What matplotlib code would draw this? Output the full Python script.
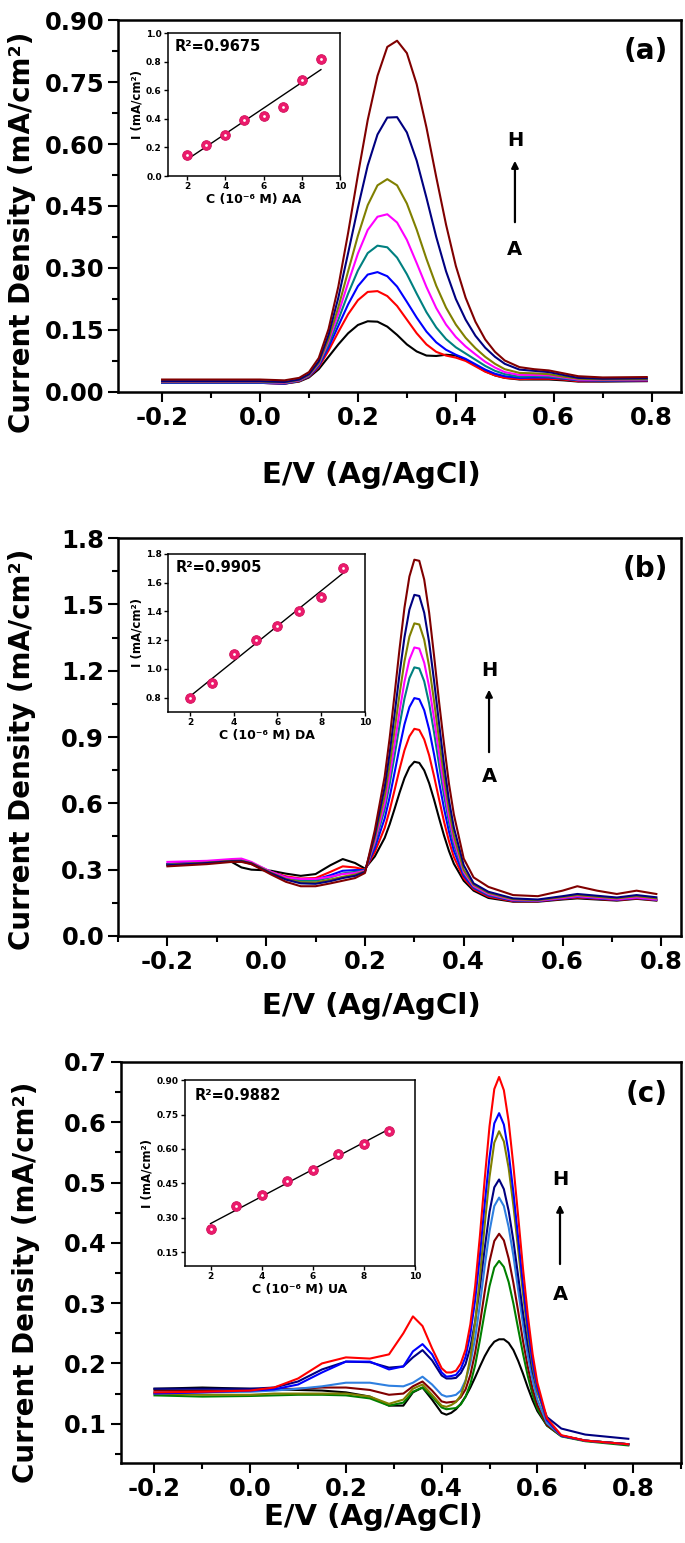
import matplotlib
matplotlib.use('Agg')
import matplotlib.pyplot as plt
import numpy as np
from matplotlib.ticker import MultipleLocator, FormatStrFormatter

plt.rcParams['font.family'] = 'DejaVu Sans'
plt.rcParams['font.weight'] = 'bold'
plt.rcParams['axes.labelweight'] = 'bold'

# ---------------- panel (a) : AA ----------------
Va = [-0.20, -0.10, 0.00, 0.05, 0.08, 0.10, 0.12, 0.14, 0.16, 0.18, 0.20, 0.22, 0.24, 0.26,
      0.28, 0.30, 0.32, 0.34, 0.36, 0.38, 0.40, 0.42, 0.44, 0.46, 0.48, 0.50, 0.53, 0.56,
      0.59, 0.62, 0.65, 0.70, 0.79]
a_black = [0.022, 0.022, 0.022, 0.020, 0.025, 0.035, 0.055, 0.085, 0.115, 0.142, 0.162, 0.171, 0.170, 0.158,
           0.138, 0.115, 0.098, 0.088, 0.087, 0.090, 0.088, 0.078, 0.064, 0.050, 0.040, 0.034, 0.030, 0.030,
           0.030, 0.028, 0.025, 0.025, 0.026]
a_red = [0.022, 0.022, 0.022, 0.020, 0.026, 0.037, 0.060, 0.100, 0.145, 0.188, 0.222, 0.242, 0.244, 0.232,
         0.208, 0.175, 0.142, 0.115, 0.097, 0.088, 0.083, 0.075, 0.062, 0.049, 0.040, 0.034, 0.031, 0.032,
         0.032, 0.030, 0.026, 0.026, 0.027]
a_blue = [0.022, 0.022, 0.022, 0.020, 0.027, 0.038, 0.063, 0.108, 0.160, 0.212, 0.256, 0.284, 0.290, 0.280,
          0.255, 0.218, 0.180, 0.146, 0.120, 0.102, 0.090, 0.080, 0.067, 0.054, 0.044, 0.038, 0.034, 0.035,
          0.035, 0.032, 0.028, 0.027, 0.028]
a_teal = [0.023, 0.023, 0.023, 0.021, 0.027, 0.039, 0.066, 0.115, 0.175, 0.238, 0.294, 0.336, 0.354, 0.350,
          0.325, 0.285, 0.238, 0.193, 0.156, 0.128, 0.108, 0.093, 0.078, 0.063, 0.051, 0.043, 0.037, 0.038,
          0.037, 0.033, 0.029, 0.028, 0.029]
a_magenta = [0.024, 0.024, 0.024, 0.022, 0.028, 0.040, 0.068, 0.122, 0.190, 0.264, 0.335, 0.392, 0.424, 0.430,
             0.410, 0.368, 0.312, 0.254, 0.203, 0.163, 0.133, 0.110, 0.091, 0.073, 0.059, 0.048, 0.041, 0.041,
             0.040, 0.035, 0.030, 0.029, 0.030]
a_olive = [0.025, 0.025, 0.025, 0.023, 0.029, 0.041, 0.070, 0.128, 0.205, 0.292, 0.378, 0.452, 0.500, 0.515,
           0.500, 0.456, 0.393, 0.322, 0.257, 0.204, 0.163, 0.131, 0.106, 0.085, 0.068, 0.055, 0.046, 0.045,
           0.043, 0.037, 0.032, 0.030, 0.031]
a_navy = [0.026, 0.026, 0.026, 0.024, 0.030, 0.043, 0.074, 0.138, 0.228, 0.336, 0.446, 0.548, 0.623, 0.664,
          0.665, 0.628, 0.560, 0.470, 0.375, 0.292, 0.225, 0.175, 0.136, 0.107, 0.085, 0.068, 0.054, 0.051,
          0.048, 0.041, 0.034, 0.032, 0.033]
a_maroon = [0.030, 0.030, 0.030, 0.028, 0.034, 0.048, 0.082, 0.152, 0.255, 0.385, 0.525, 0.658, 0.765, 0.835,
            0.850, 0.820, 0.745, 0.640, 0.520, 0.405, 0.305, 0.228, 0.170, 0.127, 0.097, 0.076, 0.060, 0.055,
            0.052, 0.045, 0.038, 0.035, 0.036]

# ---------------- panel (b) : DA ----------------
Vb = [-0.20, -0.12, -0.07, -0.05, -0.03, -0.01, 0.01, 0.04, 0.07, 0.10, 0.13, 0.155, 0.18, 0.20,
      0.22, 0.24, 0.25, 0.26, 0.27, 0.28, 0.29, 0.30, 0.31, 0.32, 0.33, 0.34, 0.35, 0.36, 0.37, 0.38, 0.40,
      0.42, 0.45, 0.50, 0.55, 0.60, 0.63, 0.67, 0.71, 0.75, 0.79]
b_black = [0.325, 0.335, 0.335, 0.310, 0.300, 0.298, 0.295, 0.282, 0.272, 0.280, 0.320, 0.348, 0.330, 0.305,
           0.360, 0.444, 0.505, 0.575, 0.648, 0.714, 0.763, 0.788, 0.783, 0.749, 0.691, 0.616, 0.534, 0.455, 0.385, 0.327, 0.250,
           0.205, 0.172, 0.155, 0.155, 0.165, 0.170, 0.165, 0.160, 0.168, 0.160]
b_red = [0.325, 0.335, 0.340, 0.338, 0.325, 0.305, 0.290, 0.270, 0.260, 0.262, 0.290, 0.315, 0.310, 0.300,
         0.380, 0.489, 0.568, 0.660, 0.754, 0.840, 0.903, 0.937, 0.932, 0.889, 0.817, 0.722, 0.619, 0.518, 0.430, 0.357, 0.262,
         0.212, 0.178, 0.157, 0.157, 0.168, 0.174, 0.168, 0.162, 0.170, 0.162]
b_blue = [0.325, 0.335, 0.342, 0.342, 0.330, 0.310, 0.290, 0.265, 0.255, 0.255, 0.275, 0.295, 0.298, 0.298,
          0.398, 0.532, 0.628, 0.739, 0.853, 0.957, 1.035, 1.076, 1.071, 1.021, 0.934, 0.821, 0.698, 0.578, 0.473, 0.386, 0.273,
          0.218, 0.183, 0.160, 0.158, 0.170, 0.177, 0.170, 0.164, 0.172, 0.164]
b_teal = [0.322, 0.333, 0.342, 0.342, 0.332, 0.310, 0.288, 0.262, 0.250, 0.250, 0.265, 0.283, 0.290, 0.297,
          0.416, 0.574, 0.687, 0.817, 0.952, 1.074, 1.166, 1.215, 1.210, 1.152, 1.051, 0.920, 0.776, 0.637, 0.515, 0.414, 0.283,
          0.222, 0.186, 0.162, 0.160, 0.172, 0.180, 0.173, 0.166, 0.174, 0.165]
b_magenta = [0.335, 0.340, 0.348, 0.350, 0.335, 0.312, 0.290, 0.265, 0.258, 0.258, 0.268, 0.280, 0.285, 0.295,
             0.427, 0.601, 0.725, 0.868, 1.015, 1.150, 1.250, 1.305, 1.300, 1.236, 1.127, 0.983, 0.827, 0.675, 0.542, 0.433, 0.290,
             0.226, 0.190, 0.163, 0.160, 0.172, 0.180, 0.173, 0.166, 0.174, 0.165]
b_olive = [0.322, 0.332, 0.340, 0.340, 0.330, 0.308, 0.286, 0.258, 0.243, 0.242, 0.255, 0.268, 0.278, 0.292,
           0.442, 0.634, 0.772, 0.930, 1.093, 1.242, 1.354, 1.414, 1.409, 1.340, 1.219, 1.061, 0.889, 0.722, 0.575, 0.455, 0.299,
           0.232, 0.195, 0.166, 0.162, 0.176, 0.185, 0.177, 0.170, 0.180, 0.170]
b_navy = [0.320, 0.330, 0.338, 0.338, 0.328, 0.305, 0.283, 0.255, 0.238, 0.236, 0.248, 0.262, 0.272, 0.290,
          0.458, 0.674, 0.827, 1.003, 1.185, 1.351, 1.476, 1.543, 1.538, 1.462, 1.328, 1.153, 0.962, 0.777, 0.615, 0.490, 0.320,
          0.238, 0.200, 0.170, 0.165, 0.180, 0.190, 0.182, 0.174, 0.185, 0.175]
b_maroon = [0.315, 0.325, 0.335, 0.335, 0.325, 0.302, 0.278, 0.245, 0.225, 0.225, 0.238, 0.250, 0.262, 0.285,
            0.479, 0.722, 0.895, 1.093, 1.298, 1.485, 1.626, 1.702, 1.697, 1.612, 1.462, 1.266, 1.060, 0.870, 0.690, 0.550, 0.350,
            0.265, 0.222, 0.185, 0.180, 0.205, 0.225, 0.205, 0.190, 0.205, 0.190]

# ---------------- panel (c) : UA ----------------
Vc = [-0.20, -0.10, 0.00, 0.05, 0.10, 0.15, 0.20, 0.25, 0.29, 0.32, 0.34, 0.36, 0.38, 0.40, 0.41,
      0.42, 0.43, 0.44, 0.45, 0.46, 0.47, 0.48, 0.49, 0.50, 0.51, 0.52, 0.53, 0.54, 0.55, 0.56, 0.57,
      0.58, 0.59, 0.60, 0.62, 0.65, 0.70, 0.79]
c_black = [0.158, 0.160, 0.158, 0.157, 0.156, 0.155, 0.152, 0.145, 0.130, 0.130, 0.152, 0.160, 0.140, 0.118, 0.115,
           0.118, 0.124, 0.133, 0.145, 0.160, 0.177, 0.195, 0.212, 0.226, 0.236, 0.240, 0.240, 0.234, 0.222, 0.204, 0.183,
           0.160, 0.139, 0.121, 0.097, 0.080, 0.072, 0.066]
c_green = [0.147, 0.145, 0.146, 0.147, 0.148, 0.148, 0.147, 0.142, 0.130, 0.135, 0.153, 0.160, 0.145, 0.127, 0.124,
           0.125, 0.126, 0.132, 0.145, 0.166, 0.197, 0.239, 0.285, 0.328, 0.359, 0.370, 0.360, 0.335, 0.299, 0.257, 0.216,
           0.179, 0.148, 0.125, 0.097, 0.079, 0.071, 0.064]
c_maroon = [0.155, 0.155, 0.155, 0.157, 0.158, 0.160, 0.160, 0.156, 0.148, 0.150, 0.162, 0.170, 0.155, 0.137, 0.135,
            0.136, 0.137, 0.144, 0.157, 0.181, 0.218, 0.266, 0.319, 0.369, 0.403, 0.415, 0.404, 0.374, 0.333, 0.286, 0.237,
            0.194, 0.158, 0.131, 0.098, 0.080, 0.072, 0.066]
c_lightblue = [0.152, 0.152, 0.153, 0.155, 0.158, 0.162, 0.168, 0.168, 0.163, 0.162, 0.168, 0.178, 0.165, 0.148, 0.145,
               0.146, 0.148, 0.155, 0.172, 0.200, 0.242, 0.298, 0.361, 0.419, 0.461, 0.475, 0.461, 0.426, 0.378, 0.321, 0.264,
               0.213, 0.172, 0.140, 0.101, 0.080, 0.072, 0.066]
c_navy = [0.158, 0.158, 0.158, 0.160, 0.170, 0.190, 0.203, 0.202, 0.193, 0.195, 0.210, 0.222, 0.205, 0.180, 0.175,
          0.175, 0.176, 0.184, 0.199, 0.227, 0.270, 0.327, 0.391, 0.451, 0.492, 0.505, 0.489, 0.453, 0.403, 0.344, 0.284,
          0.231, 0.186, 0.153, 0.111, 0.092, 0.082, 0.075]
c_olive = [0.150, 0.148, 0.148, 0.150, 0.150, 0.150, 0.150, 0.145, 0.133, 0.140, 0.158, 0.165, 0.148, 0.130, 0.128,
           0.131, 0.136, 0.147, 0.170, 0.210, 0.268, 0.344, 0.430, 0.509, 0.566, 0.585, 0.568, 0.524, 0.461, 0.388, 0.315,
           0.249, 0.195, 0.154, 0.106, 0.080, 0.072, 0.066]
c_blue = [0.150, 0.152, 0.155, 0.157, 0.165, 0.185, 0.203, 0.203, 0.190, 0.195, 0.220, 0.232, 0.215, 0.185, 0.178,
          0.179, 0.181, 0.191, 0.211, 0.249, 0.305, 0.380, 0.465, 0.542, 0.598, 0.615, 0.596, 0.549, 0.483, 0.407, 0.330,
          0.261, 0.203, 0.160, 0.106, 0.080, 0.072, 0.066]
c_red = [0.152, 0.153, 0.155, 0.160, 0.175, 0.200, 0.210, 0.208, 0.215, 0.250, 0.278, 0.262, 0.225, 0.192, 0.185,
         0.185, 0.188, 0.200, 0.223, 0.265, 0.328, 0.412, 0.506, 0.593, 0.655, 0.675, 0.653, 0.601, 0.527, 0.443, 0.357,
         0.280, 0.216, 0.168, 0.109, 0.081, 0.072, 0.066]

# ---------------- calibration insets ----------------
conc = [2, 3, 4, 5, 6, 7, 8, 9]
I_aa = [0.15, 0.22, 0.29, 0.39, 0.42, 0.48, 0.67, 0.82]
I_da = [0.80, 0.90, 1.10, 1.20, 1.30, 1.40, 1.50, 1.70]
I_ua = [0.25, 0.35, 0.40, 0.46, 0.51, 0.58, 0.62, 0.68]

fig = plt.figure(figsize=(6.85, 15.43), dpi=100)


def style_main(ax, xlim, ylim, ymaj, yfmt, ylab_y, xlab_y):
    ax.set_xlim(*xlim)
    ax.set_ylim(*ylim)
    ax.xaxis.set_major_locator(MultipleLocator(0.2))
    ax.xaxis.set_minor_locator(MultipleLocator(0.1))
    ax.yaxis.set_major_locator(MultipleLocator(ymaj))
    ax.yaxis.set_minor_locator(MultipleLocator(ymaj / 2))
    ax.xaxis.set_major_formatter(FormatStrFormatter('%.1f'))
    ax.yaxis.set_major_formatter(FormatStrFormatter(yfmt))
    ax.tick_params(which='both', direction='out', top=False, right=False, width=1.5)
    ax.tick_params(which='major', length=7, labelsize=17.5, pad=3)
    ax.tick_params(which='minor', length=4)
    for s in ax.spines.values():
        s.set_linewidth(1.8)
    ax.set_xlabel('E/V (Ag/AgCl)', fontsize=21)
    ax.set_ylabel('Current Density (mA/cm²)', fontsize=20)
    ax.yaxis.set_label_coords(-0.145, ylab_y)
    ax.xaxis.set_label_coords(0.45, xlab_y)


def style_inset(ax, ylim, ymaj, yfmt, xlab, r2, fs_tick=6.5):
    ax.set_xlim(1, 10)
    ax.set_ylim(*ylim)
    ax.xaxis.set_major_locator(MultipleLocator(2))
    ax.yaxis.set_major_locator(MultipleLocator(ymaj))
    ax.yaxis.set_major_formatter(FormatStrFormatter(yfmt))
    ax.tick_params(which='both', direction='out', top=False, right=False, width=1.0,
                   length=3, labelsize=fs_tick, pad=1.5)
    for s in ax.spines.values():
        s.set_linewidth(1.1)
    ax.set_xlabel(xlab, fontsize=9, labelpad=1)
    ax.set_ylabel('I (mA/cm²)', fontsize=8.5, labelpad=2)
    ax.text(0.04, 0.96, r2, transform=ax.transAxes, ha='left', va='top', fontsize=10.5)


def inset_points(ax, vals):
    fit = np.polyfit(conc, vals, 1)
    ax.plot([conc[0], conc[-1]], np.polyval(fit, [conc[0], conc[-1]]), color='black', lw=1.0)
    ax.plot(conc, vals, 'o', color='#ec1a6c', ms=7, mec='#d0105a', mew=0.6)
    ax.plot(conc, vals, 'o', color='white', ms=2.0, mew=0)


def arrow_text(ax, x, yh, ytail, yhead, ya):
    ax.text(x, yh, 'H', transform=ax.transAxes, ha='center', va='center', fontsize=14)
    ax.text(x, ya, 'A', transform=ax.transAxes, ha='center', va='center', fontsize=14)
    ax.annotate('', xy=(x, yhead), xytext=(x, ytail), xycoords='axes fraction',
                arrowprops=dict(arrowstyle='-|>', color='black', lw=1.6, mutation_scale=10))


# panel a
axa = fig.add_axes([0.1723, 0.7460, 0.8219, 0.2410])
a_curves = [(a_black, 'black'), (a_red, 'red'), (a_blue, 'blue'), (a_teal, '#008080'),
            (a_magenta, '#ff00ff'), (a_olive, '#808000'), (a_navy, '#000080'), (a_maroon, '#800000')]
for y, c in a_curves:
    axa.plot(Va, y, color=c, lw=1.5)
style_main(axa, (-0.29, 0.86), (0.0, 0.90), 0.15, '%.2f', 0.43, -0.185)
axa.text(0.977, 0.955, '(a)', transform=axa.transAxes, ha='right', va='top', fontsize=20)
arrow_text(axa, 0.705, 0.677, 0.449, 0.629, 0.382)

ia = fig.add_axes([0.2453, 0.8859, 0.2511, 0.0927])
inset_points(ia, I_aa)
style_inset(ia, (0.0, 1.0), 0.2, '%.1f', 'C (10⁻⁶ M) AA', 'R²=0.9675')

# panel b
axb = fig.add_axes([0.1723, 0.3934, 0.8219, 0.2579])
b_curves = [(b_black, 'black'), (b_red, 'red'), (b_blue, 'blue'), (b_teal, '#008080'),
            (b_magenta, '#ff00ff'), (b_olive, '#808000'), (b_navy, '#000080'), (b_maroon, '#800000')]
for y, c in b_curves:
    axb.plot(Vb, y, color=c, lw=1.5)
style_main(axb, (-0.30, 0.84), (0.0, 1.8), 0.3, '%.1f', 0.47, -0.14)
axb.text(0.977, 0.957, '(b)', transform=axb.transAxes, ha='right', va='top', fontsize=20)
arrow_text(axb, 0.659, 0.668, 0.455, 0.626, 0.400)

ib = fig.add_axes([0.2453, 0.5386, 0.2876, 0.1024])
inset_points(ib, I_da)
style_inset(ib, (0.7, 1.8), 0.2, '%.1f', 'C (10⁻⁶ M) DA', 'R²=0.9905')

# panel c
axc = fig.add_axes([0.1766, 0.0519, 0.8175, 0.2599])
c_curves = [(c_black, 'black'), (c_green, '#008000'), (c_maroon, '#800000'), (c_lightblue, '#2f80e0'),
            (c_navy, '#000080'), (c_olive, '#808000'), (c_blue, '#0000ff'), (c_red, '#ff0000')]
for y, c in c_curves:
    axc.plot(Vc, y, color=c, lw=1.5)
style_main(axc, (-0.27, 0.90), (0.035, 0.70), 0.1, '%.1f', 0.45, -0.10)
axc.text(0.977, 0.955, '(c)', transform=axc.transAxes, ha='right', va='top', fontsize=20)
arrow_text(axc, 0.784, 0.706, 0.489, 0.651, 0.419)

ic = fig.add_axes([0.2701, 0.1795, 0.3358, 0.1205])
inset_points(ic, I_ua)
style_inset(ic, (0.09, 0.90), 0.15, '%.2f', 'C (10⁻⁶ M) UA', 'R²=0.9882')

fig.savefig('out.png', dpi=100)
